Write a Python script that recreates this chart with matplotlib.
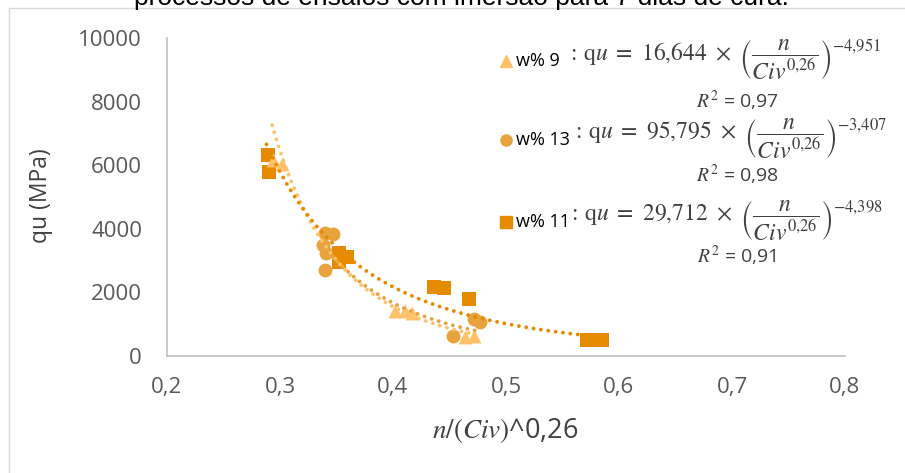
import numpy as np
import matplotlib
matplotlib.use("Agg")
import matplotlib.pyplot as plt
from matplotlib.patches import Rectangle
from matplotlib.lines import Line2D

plt.rcParams["font.family"] = ["Open Sans", "DejaVu Sans"]
plt.rcParams["mathtext.fontset"] = "stix"

# data
w9_x = [0.2935, 0.302, 0.402, 0.411, 0.417, 0.464, 0.472]
w9_y = [6160, 6040, 1400, 1400, 1340, 590, 630]
w13_x = [0.340, 0.347, 0.338, 0.341, 0.340, 0.453, 0.472, 0.477]
w13_y = [3860, 3840, 3490, 3250, 2700, 630, 1150, 1080]
w11_x = [0.289, 0.2906, 0.352, 0.359, 0.3525, 0.436, 0.445, 0.467, 0.5715, 0.579, 0.585]
w11_y = [6320, 5775, 3230, 3120, 2965, 2160, 2130, 1780, 500, 500, 500]

# trend lines (coef, exponent, x range)
trend_light = (16.644, -4.951, 0.293, 0.472)
trend_mid = (29.712, -4.398, 0.338, 0.477)
trend_dark = (95.795, -3.407, 0.288, 0.585)

labels = ["w% 9", "w% 13", "w% 11"]
coefs = ["16{,}644", "95{,}795", "29{,}712"]
exps = ["-4{,}951", "-3{,}407", "-4{,}398"]
r2 = ["0,97", "0,98", "0,91"]

c_light = "#FFC16A"
c_mid = "#E8A33F"
c_dark = "#E68A00"

fig = plt.figure(figsize=(9.05, 4.73), dpi=100)
fig.patches.append(Rectangle((9 / 905, -0.1), 1.2, (473 - 8) / 473 + 0.1, transform=fig.transFigure,
                             fill=False, edgecolor="#d9d9d9", linewidth=1))
fig.text(461 / 905, 1 - 5 / 473, "processos de ensaios com imersão para 7 dias de cura.",
         ha="center", va="baseline", fontsize=19, family=["Liberation Sans"], color="#000000")

ax = fig.add_axes([167 / 905, 1 - 356 / 473, (845 - 167) / 905, (356 - 38) / 473])

ax.scatter(w13_x, w13_y, marker="o", s=100, color=c_mid, zorder=2, linewidths=0)
ax.scatter(w11_x, w11_y, marker="s", s=90, color=c_dark, zorder=3, linewidths=0)
ax.scatter(w9_x, w9_y, marker="^", s=100, color=c_light, zorder=4, linewidths=0)

for (a, b, x0, x1), col in [(trend_light, c_light), (trend_mid, c_mid), (trend_dark, c_dark)]:
    xs = np.linspace(x0, x1, 200)
    ax.plot(xs, a * xs ** b, color=col, linewidth=2.8, linestyle=(0, (0.01, 1.9)),
            dash_capstyle="round", zorder=5)

ax.set_xlim(0.2, 0.8)
ax.set_ylim(0, 10000)
ax.set_xticks(np.arange(0.2, 0.81, 0.1))
ax.set_xticklabels([f"{v:.1f}".replace(".", ",") for v in np.arange(0.2, 0.81, 0.1)])
ax.set_yticks(range(0, 10001, 2000))
ax.tick_params(length=0, labelsize=16, colors="#595959")
ax.tick_params(axis="y", pad=18)
ax.tick_params(axis="x", pad=15)
for s in ["top", "right"]:
    ax.spines[s].set_visible(False)
for s in ["left", "bottom"]:
    ax.spines[s].set_color("#bfbfbf")
    ax.spines[s].set_linewidth(1.2)

fig.text(41 / 905, 1 - 196 / 473, "qu (MPa)", rotation=90, ha="center", va="center",
         fontsize=16.5, color="#404040")
fig.text(505 / 905, 1 - 430 / 473, r"$n/(Civ)$^0,26", ha="center", va="center",
         fontsize=19.5, color="#404040", math_fontfamily="stix")

# legend-like equations
rows_y = [60, 139, 221]
r2_y = [101, 175, 256]
label_end = [563, 568, 564]
markers = ["^", "o", "s"]
cols = [c_light, c_mid, c_dark]
for i in range(3):
    yf = 1 - rows_y[i] / 473
    fig.lines.append(Line2D([506 / 905], [1 - (rows_y[i] + 1) / 473], marker=markers[i], color=cols[i],
                            markersize=8, linestyle="none", transform=fig.transFigure))
    fig.text(516 / 905, 1 - (rows_y[i] + 1) / 473, labels[i], ha="left", va="center", fontsize=13,
             color="#000000")
    fig.text((label_end[i] + 4) / 905, yf,
             r"$:\,\mathrm{q}u\ =\ " + coefs[i] + r"\ \times\ \left(\dfrac{n}{Civ^{0{,}26}}\right)^{" + exps[i] + "}$",
             ha="left", va="center", fontsize=17, color="#404040")
    fig.text(737 / 905, 1 - r2_y[i] / 473, r"$R^2$ = " + r2[i], ha="center", va="center",
             fontsize=14, color="#404040", family=["Open Sans"])

fig.savefig("out.png", dpi=100)
